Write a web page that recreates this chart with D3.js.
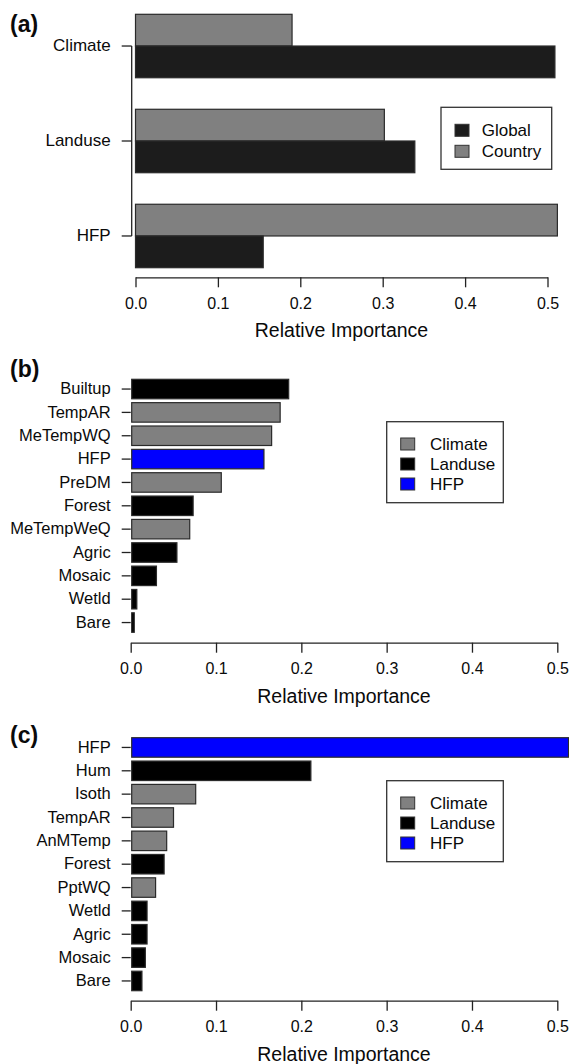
<!DOCTYPE html>
<html>
<head>
<meta charset="utf-8">
<script src="https://cdn.jsdelivr.net/npm/d3@7"></script>
<style>
    body { margin: 0; background: #fff; }
    svg text { font-family: "Liberation Sans", Arial, Helvetica, sans-serif; fill: #0a0a0a; }
    .axis path, .axis line { stroke: #222; stroke-width: 1.3; }
    .axis text { font-size: 16px; }
</style>
</head>
<body>
<div id="chart"></div>
<script>
// panel (a)
const groupCats = ["Climate", "Landuse", "HFP"];
const seriesA = ["Global", "Country"];
const globalVals = [0.509, 0.339, 0.155];
const countryVals = [0.190, 0.302, 0.512];

// panel (b)
const bVars = ["Builtup", "TempAR", "MeTempWQ", "HFP", "PreDM", "Forest", "MeTempWeQ", "Agric", "Mosaic", "Wetld", "Bare"];
const bVals = [0.184, 0.174, 0.164, 0.155, 0.105, 0.072, 0.068, 0.053, 0.029, 0.006, 0.003];
const bTypes = ["Landuse", "Climate", "Climate", "HFP", "Climate", "Landuse", "Climate", "Landuse", "Landuse", "Landuse", "Landuse"];

// panel (c)
const cVars = ["HFP", "Hum", "Isoth", "TempAR", "AnMTemp", "Forest", "PptWQ", "Wetld", "Agric", "Mosaic", "Bare"];
const cVals = [0.512, 0.210, 0.075, 0.049, 0.041, 0.038, 0.028, 0.018, 0.018, 0.016, 0.012];
const cTypes = ["HFP", "Landuse", "Climate", "Climate", "Climate", "Landuse", "Climate", "Landuse", "Landuse", "Landuse", "Landuse"];

const typeNames = ["Climate", "Landuse", "HFP"];
const xTicks = [0, 0.1, 0.2, 0.3, 0.4, 0.5];
const axisTitle = "Relative Importance";

const seriesColor = d3.scaleOrdinal().domain(seriesA).range(["#1c1c1c", "#808080"]);
const typeColor = d3.scaleOrdinal().domain(typeNames).range(["#808080", "#000000", "#0000ff"]);

const svg = d3.select("#chart").append("svg")
    .attr("width", 569)
    .attr("height", 1064);

function drawXAxis(x, axisY) {
    svg.append("g")
        .attr("class", "axis")
        .attr("transform", "translate(0," + axisY + ")")
        .call(d3.axisBottom(x).tickValues(xTicks).tickFormat(d3.format(".1f"))
            .tickSize(10).tickSizeOuter(0).tickPadding(10));

    svg.append("text")
        .attr("x", (x.range()[0] + x.range()[1]) / 2)
        .attr("y", axisY + 60)
        .attr("text-anchor", "middle")
        .style("font-size", "19.5px")
        .text(axisTitle);
}

function drawPanelLabel(label, baseY) {
    svg.append("text")
        .attr("x", 10)
        .attr("y", baseY)
        .style("font-size", "23px")
        .style("font-weight", "bold")
        .text(label);
}

function drawLegend(items, color, box) {
    let g = svg.append("g").attr("transform", "translate(" + box.x + "," + box.y + ")");
    g.append("rect")
        .attr("width", box.w)
        .attr("height", box.h)
        .attr("fill", "#fff")
        .attr("stroke", "#333")
        .attr("stroke-width", 1.3);

    let rows = g.selectAll(null).data(items).enter().append("g")
        .attr("transform", (d, i) => "translate(0," + (box.first + i * box.step) + ")");
    rows.append("rect")
        .attr("x", box.sq)
        .attr("y", -6)
        .attr("width", 14)
        .attr("height", 12)
        .attr("fill", d => color(d))
        .attr("stroke", "#333")
        .attr("stroke-width", 1);
    rows.append("text")
        .attr("x", box.tx)
        .attr("dy", "0.36em")
        .style("font-size", "17px")
        .text(d => d);
}

// ---------- panel (a)
(function () {
    let x = d3.scaleLinear().domain([0, 0.5]).range([135.5, 547.5]);
    let y = d3.scaleBand().domain(groupCats).range([14.3, 267.7]).paddingInner(0.332);
    let ySub = d3.scaleBand().domain(["Country", "Global"]).range([0, y.bandwidth()]);

    let rows = groupCats.map((c, i) => ({cat: c, Global: globalVals[i], Country: countryVals[i]}));

    let groups = svg.selectAll(null).data(rows).enter().append("g")
        .attr("transform", d => "translate(0," + y(d.cat) + ")");
    groups.selectAll("rect")
        .data(d => ["Country", "Global"].map(s => ({s: s, v: d[s]})))
        .enter().append("rect")
        .attr("x", x(0))
        .attr("y", d => ySub(d.s))
        .attr("width", d => x(d.v) - x(0))
        .attr("height", ySub.bandwidth())
        .attr("fill", d => seriesColor(d.s))
        .attr("stroke", "#2a2a2a")
        .attr("stroke-width", 1.2);

    // y axis with line between first and last tick
    let axX = 131.7;
    let yAx = svg.append("g")
        .attr("class", "axis")
        .attr("transform", "translate(" + axX + ",0)")
        .call(d3.axisLeft(y).tickSize(10).tickPadding(11));
    yAx.select(".domain").remove();
    yAx.selectAll("text").style("font-size", "17px");
    svg.append("line")
        .attr("x1", axX).attr("x2", axX)
        .attr("y1", y(groupCats[0]) + y.bandwidth() / 2)
        .attr("y2", y(groupCats[groupCats.length - 1]) + y.bandwidth() / 2)
        .attr("stroke", "#222")
        .attr("stroke-width", 1.3);

    drawXAxis(x, 277.3);
    drawPanelLabel("(a)", 32);
    drawLegend(seriesA, seriesColor, {x: 441, y: 107.3, w: 110.7, h: 62, first: 23, step: 21, sq: 14, tx: 40.7});
})();

// ---------- panels (b) and (c)
function drawRanked(vars, vals, types, top, bottom, axisY, label, labelY, legendY) {
    let x = d3.scaleLinear().domain([0, 0.5]).range([130.7, 557.3]);
    let y = d3.scaleBand().domain(vars).range([top, bottom]).paddingInner(0.165);

    let data = vars.map((v, i) => ({name: v, value: vals[i], type: types[i]}));

    svg.append("g").selectAll("rect").data(data).enter().append("rect")
        .attr("x", x(0) + 1)
        .attr("y", d => y(d.name))
        .attr("width", d => x(d.value) - x(0))
        .attr("height", y.bandwidth())
        .attr("fill", d => typeColor(d.type))
        .attr("stroke", "#2a2a2a")
        .attr("stroke-width", 1.2);

    let yAx = svg.append("g")
        .attr("class", "axis")
        .attr("transform", "translate(" + x(0) + ",0)")
        .call(d3.axisLeft(y).tickSize(9).tickPadding(11));
    yAx.select(".domain").remove();
    yAx.selectAll("text").style("font-size", "16.5px");

    drawXAxis(x, axisY);
    drawPanelLabel(label, labelY);
    drawLegend(typeNames, typeColor, {x: 386.7, y: legendY, w: 116.6, h: 81, first: 22.3, step: 20, sq: 14, tx: 43.3});
}

drawRanked(bVars, bVals, bTypes, 379.3, 632.3, 642.7, "(b)", 377, 421.7);
drawRanked(cVars, cVals, cTypes, 737.7, 990.7, 1000.7, "(c)", 742.5, 780.7);
</script>
</body>
</html>
